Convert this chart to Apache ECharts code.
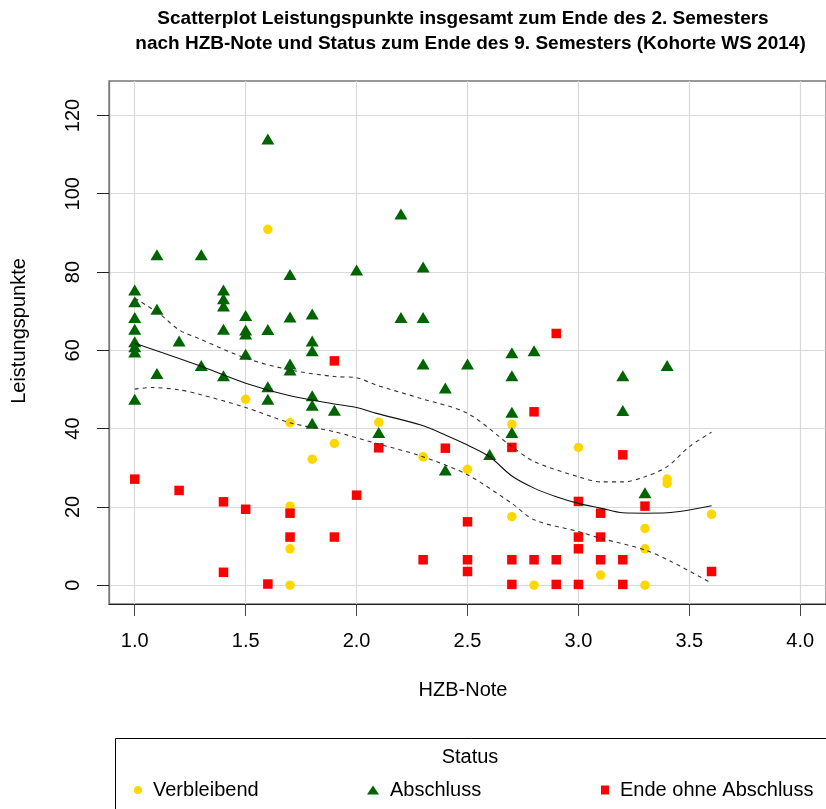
<!DOCTYPE html>
<html>
<head>
<meta charset="utf-8">
<script src="https://cdn.jsdelivr.net/npm/echarts@6/dist/echarts.min.js"></script>
<style>
  html, body { margin: 0; padding: 0; background: #ffffff; }
  #chart { width: 826px; height: 809px; }
</style>
</head>
<body>
<div id="chart"></div>
<script>
// Tick positions
const xTicks = [1.0, 1.5, 2.0, 2.5, 3.0, 3.5, 4.0];
const yTicks = [0, 20, 40, 60, 80, 100, 120];

// Status: Verbleibend
const verbleibendX = [1.6, 1.5, 1.7, 1.9, 1.8, 1.7, 1.7, 1.7, 2.1, 2.7, 3.0, 2.3, 2.5, 2.7, 2.8, 3.1, 3.3, 3.3, 3.3, 3.4, 3.4, 3.6];
const verbleibendY = [90.9, 47.5, 41.5, 36.2, 32.2, 20.2, 9.3, 0, 41.6, 41.1, 35.2, 32.8, 29.6, 17.5, 0, 2.6, 14.5, 9.3, 0, 27.1, 26.0, 18.1];

// Status: Abschluss
const abschlussX = [1.0, 1.0, 1.0, 1.0, 1.0, 1.0, 1.0, 1.0,
  1.1, 1.1, 1.1, 1.2, 1.3, 1.3,
  1.4, 1.4, 1.4, 1.4, 1.4,
  1.5, 1.5, 1.5, 1.5,
  1.6, 1.6, 1.6, 1.6,
  1.7, 1.7, 1.7, 1.7,
  1.8, 1.8, 1.8, 1.8, 1.8, 1.8,
  1.9, 2.0, 2.1, 2.2, 2.2, 2.3, 2.3, 2.3, 2.4, 2.4, 2.5, 2.6,
  2.7, 2.7, 2.7, 2.7, 2.8, 3.2, 3.2, 3.3, 3.4];
const abschlussY = [75.4, 72.4, 68.4, 65.4, 62.2, 60.9, 59.6, 47.5,
  84.4, 70.5, 54.1, 62.4, 84.4, 56.1,
  75.4, 73.2, 71.3, 65.4, 53.5,
  68.9, 65.2, 64.2, 59.0,
  114.0, 65.3, 50.7, 47.5,
  79.4, 68.5, 56.5, 55.0,
  69.3, 62.4, 59.9, 48.4, 46.0, 41.4,
  44.7, 80.5, 39.0, 94.8, 68.4, 81.3, 68.4, 56.5, 50.4, 29.4, 56.5, 33.4,
  59.4, 53.5, 44.2, 39.0, 59.9, 53.5, 44.6, 23.6, 56.1];

// Status: Ende ohne Abschluss
const endeX = [1.0, 1.2, 1.4, 1.4, 1.5, 1.6, 1.7, 1.7, 1.9, 1.9, 2.0, 2.1, 2.3, 2.4,
  2.5, 2.5, 2.5, 2.7, 2.7, 2.7, 2.8, 2.8, 2.9, 2.9, 2.9,
  3.0, 3.0, 3.0, 3.0, 3.1, 3.1, 3.1, 3.2, 3.2, 3.2, 3.3, 3.6];
const endeY = [27.1, 24.2, 21.3, 3.3, 19.4, 0.3, 18.4, 12.3, 57.3, 12.3, 23.0, 35.1, 6.5, 35.0,
  16.2, 6.5, 3.5, 35.2, 6.5, 0.2, 44.3, 6.5, 64.3, 6.5, 0.2,
  21.4, 12.3, 9.3, 0.2, 18.4, 12.3, 6.5, 33.3, 6.5, 0.2, 20.2, 3.5];

// Smoothed trend with confidence band
const fitX = [1.0, 1.29, 1.5, 1.7, 1.9, 2.0, 2.09, 2.29, 2.4, 2.5, 2.6, 2.7, 2.8, 2.9, 3.0, 3.1, 3.2, 3.3, 3.4, 3.6];
const fitY = [61.8, 56.1, 51.6, 48.4, 46.3, 45.4, 43.9, 40.9, 38.4, 35.8, 32.8, 27.9, 24.8, 22.6, 20.9, 19.7, 18.5, 18.4, 18.5, 20.3];
const upperX = [1.0, 1.11, 1.2, 1.29, 1.5, 1.7, 1.9, 2.0, 2.09, 2.29, 2.5, 2.7, 2.8, 3.0, 3.1, 3.2, 3.3, 3.4, 3.5, 3.6];
const upperY = [73.3, 69.4, 65.2, 63.0, 58.0, 55.0, 53.3, 53.0, 51.1, 47.7, 43.9, 35.4, 31.6, 27.7, 26.4, 26.4, 27.7, 30.3, 35.4, 39.1];
const lowerX = [1.0, 1.08, 1.2, 1.29, 1.5, 1.7, 1.9, 2.09, 2.29, 2.5, 2.7, 2.8, 3.0, 3.1, 3.3, 3.42, 3.6];
const lowerY = [50.1, 50.5, 49.9, 48.8, 45.4, 41.5, 39.2, 36.2, 33.0, 28.2, 20.9, 16.7, 13.7, 12.0, 9.0, 6.0, 0.5];

const zip = (xs, ys) => xs.map((x, i) => [x, ys[i]]);

const FONT = "'Liberation Sans', Arial, Helvetica, sans-serif";
const chart = echarts.init(document.getElementById('chart'), null, { renderer: 'canvas' });

const legendCommon = {
  orient: 'horizontal',
  top: 775,
  selectedMode: false,
  textStyle: { fontFamily: FONT, fontSize: 20, color: '#000', lineHeight: 20, padding: [0, 0, 0, 6] }
};

const option = {
  animation: false,
  backgroundColor: '#ffffff',
  textStyle: { fontFamily: FONT },
  grid: {
    left: 109, right: -6, top: 81, bottom: 205,
    show: true, borderColor: '#777777', borderWidth: 1.3, backgroundColor: 'transparent'
  },
  xAxis: {
    type: 'value', min: 0.884, max: 4.116,
    splitLine: { show: false },
    axisLine: { show: true, onZero: false, lineStyle: { color: '#222', width: 1 } },
    axisTick: { show: true, length: 12, customValues: xTicks, lineStyle: { color: '#444', width: 1 } },
    axisLabel: {
      customValues: xTicks, formatter: v => v.toFixed(1),
      fontSize: 20, color: '#000', margin: 27, fontFamily: FONT
    }
  },
  yAxis: {
    type: 'value', min: -4.8, max: 128.8,
    splitLine: { show: false },
    axisLine: { show: true, onZero: false, lineStyle: { color: '#777', width: 1.3 } },
    axisTick: { show: true, length: 12, customValues: yTicks, lineStyle: { color: '#222', width: 1 } },
    axisLabel: {
      customValues: yTicks, rotate: 90,
      fontSize: 20, color: '#000', margin: 26, fontFamily: FONT
    }
  },
  legend: [
    Object.assign({}, legendCommon, { left: 129, itemWidth: 8, itemHeight: 8, data: [{ name: 'Verbleibend', icon: 'circle' }] }),
    Object.assign({}, legendCommon, { left: 362, itemWidth: 12, itemHeight: 9, data: [{ name: 'Abschluss', icon: 'triangle' }] }),
    Object.assign({}, legendCommon, { left: 596, itemWidth: 8, itemHeight: 9, data: [{ name: 'Ende ohne Abschluss', icon: 'rect' }] })
  ],
  graphic: [
    {
      type: 'text', x: 463, y: 19,
      style: { text: 'Scatterplot Leistungspunkte insgesamt zum Ende des 2. Semesters',
        font: "bold 19px 'Liberation Sans', Arial, sans-serif", fill: '#000', align: 'center', verticalAlign: 'middle' }
    },
    {
      type: 'text', x: 470.5, y: 44,
      style: { text: 'nach HZB-Note und Status zum Ende des 9. Semesters (Kohorte WS 2014)',
        font: "bold 19px 'Liberation Sans', Arial, sans-serif", fill: '#000', align: 'center', verticalAlign: 'middle' }
    },
    {
      type: 'text', x: 463, y: 690,
      style: { text: 'HZB-Note', font: "20px 'Liberation Sans', Arial, sans-serif", fill: '#000', align: 'center', verticalAlign: 'middle' }
    },
    {
      type: 'text', x: 19, y: 331, rotation: Math.PI / 2,
      style: { text: 'Leistungspunkte', font: "20px 'Liberation Sans', Arial, sans-serif", fill: '#000', align: 'center', verticalAlign: 'middle' }
    },
    {
      type: 'rect', shape: { x: 115.5, y: 738.5, width: 800, height: 120 },
      style: { fill: 'none', stroke: '#000', lineWidth: 1 }
    },
    {
      type: 'text', x: 470, y: 757,
      style: { text: 'Status', font: "20px 'Liberation Sans', Arial, sans-serif", fill: '#000', align: 'center', verticalAlign: 'middle' }
    }
  ],
  series: [
    {
      // reference grid lines at the tick values
      name: 'Raster', type: 'line', data: [], silent: true, z: 0,
      markLine: {
        silent: true, z: 0, symbol: ['none', 'none'], animation: false,
        label: { show: false },
        lineStyle: { color: '#d9d9d9', width: 1.2, type: 'solid', opacity: 1 },
        data: xTicks.map(v => ({ xAxis: v })).concat(yTicks.map(v => ({ yAxis: v })))
      }
    },
    {
      name: 'Verbleibend', type: 'scatter', symbol: 'circle', symbolSize: 9.5,
      itemStyle: { color: '#FFD700', opacity: 1 }, data: zip(verbleibendX, verbleibendY), z: 2
    },
    {
      name: 'Abschluss', type: 'scatter', symbol: 'triangle', symbolSize: [13, 11],
      itemStyle: { color: '#006400', opacity: 1 }, data: zip(abschlussX, abschlussY), z: 2
    },
    {
      name: 'Ende ohne Abschluss', type: 'scatter', symbol: 'rect', symbolSize: 9.5,
      itemStyle: { color: '#FF0000', opacity: 1 }, data: zip(endeX, endeY), z: 2
    },
    {
      name: 'Trend', type: 'line', data: zip(fitX, fitY), smooth: 0.3, showSymbol: false, silent: true, z: 3,
      lineStyle: { color: '#111', width: 1.1 }
    },
    {
      name: 'Obere Grenze', type: 'line', data: zip(upperX, upperY), smooth: 0.3, showSymbol: false, silent: true, z: 3,
      lineStyle: { color: '#333', width: 1.1, type: [4, 4] }
    },
    {
      name: 'Untere Grenze', type: 'line', data: zip(lowerX, lowerY), smooth: 0.3, showSymbol: false, silent: true, z: 3,
      lineStyle: { color: '#333', width: 1.1, type: [4, 4] }
    }
  ]
};

chart.setOption(option);
</script>
</body>
</html>
